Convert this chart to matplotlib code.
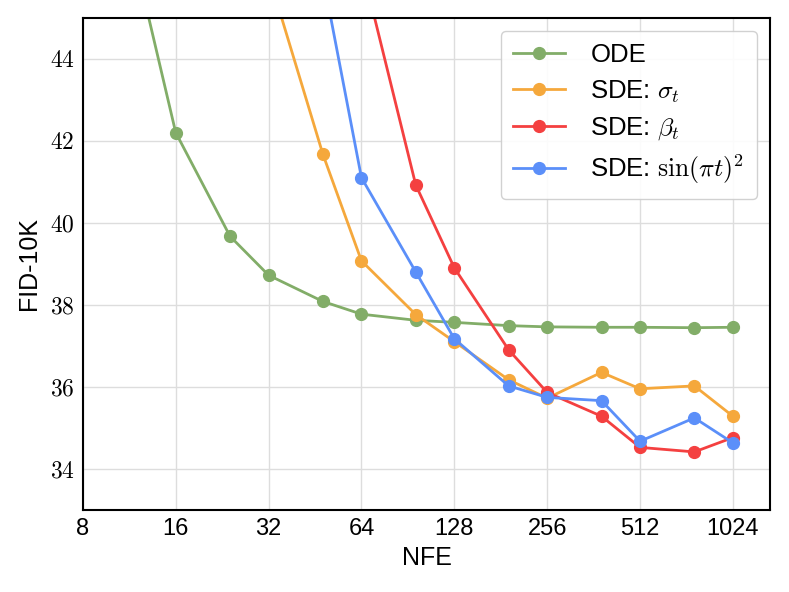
import matplotlib
matplotlib.use("Agg")
import matplotlib.pyplot as plt
from matplotlib.ticker import FixedLocator, FixedFormatter

plt.rcParams.update({"font.family": ["Liberation Sans", "DejaVu Sans"],
                     "mathtext.fontset": "cm"})

# NFE values per curve
nfe_ode = [12, 16, 24, 32, 48, 64, 96, 128, 192, 256, 384, 512, 768, 1024]
fid_ode = [46.2, 42.20, 39.67, 38.72, 38.08, 37.77, 37.62, 37.57, 37.49, 37.46,
           37.45, 37.45, 37.44, 37.45]

nfe_sigma = [32, 48, 64, 96, 128, 192, 256, 384, 512, 768, 1024]
fid_sigma = [46.05, 41.67, 39.07, 37.76, 37.10, 36.17, 35.72, 36.35, 35.95, 36.02, 35.28]

nfe_beta = [64, 96, 128, 192, 256, 384, 512, 768, 1024]
fid_beta = [46.3, 40.92, 38.90, 36.90, 35.86, 35.28, 34.52, 34.41, 34.76]

nfe_sin = [48, 64, 96, 128, 192, 256, 384, 512, 768, 1024]
fid_sin = [46.0, 41.10, 38.80, 37.17, 36.02, 35.74, 35.66, 34.67, 35.24, 34.63]

x_ticks = [8, 16, 32, 64, 128, 256, 512, 1024]
y_ticks = [34, 36, 38, 40, 42, 44]

series = [
    (nfe_ode, fid_ode, "ODE", "#82ad68"),
    (nfe_sigma, fid_sigma, r"SDE: $\sigma_t$", "#f5a83c"),
    (nfe_beta, fid_beta, r"SDE: $\beta_t$", "#f44040"),
    (nfe_sin, fid_sin, r"SDE: $\sin(\pi t)^2$", "#5b8ff9"),
]

fig = plt.figure(figsize=(7.89, 5.92), dpi=100)
ax = fig.add_axes([0.105, 0.139, 0.871, 0.831])
for x, y, lab, c in series:
    ax.plot(x, y, "-o", color=c, lw=2, ms=8.5, label=lab)

ax.set_xscale("log", base=2)
ax.set_xlim(8, 2 ** 10.4)
ax.set_ylim(33, 45)
ax.xaxis.set_major_locator(FixedLocator(x_ticks))
ax.xaxis.set_major_formatter(FixedFormatter([str(t) for t in x_ticks]))
ax.xaxis.set_minor_locator(FixedLocator([]))
ax.yaxis.set_major_locator(FixedLocator(y_ticks))
ax.yaxis.set_major_formatter(FixedFormatter([f"${t}$" for t in y_ticks]))
ax.tick_params(length=0, labelsize=17, pad=6)
ax.grid(True, color="#dddddd", lw=1)
ax.set_axisbelow(True)
for s in ax.spines.values():
    s.set_linewidth(1.5)
ax.set_xlabel("NFE", fontsize=18, labelpad=4)
ax.set_ylabel("FID-10K", fontsize=18, labelpad=6)
ax.legend(loc="upper right", fontsize=18.5, fancybox=True, framealpha=0.9,
          edgecolor="#cccccc", borderpad=0.5, handlelength=2.0,
          handletextpad=1.0, labelspacing=0.42)
fig.savefig("out.png", dpi=100)
